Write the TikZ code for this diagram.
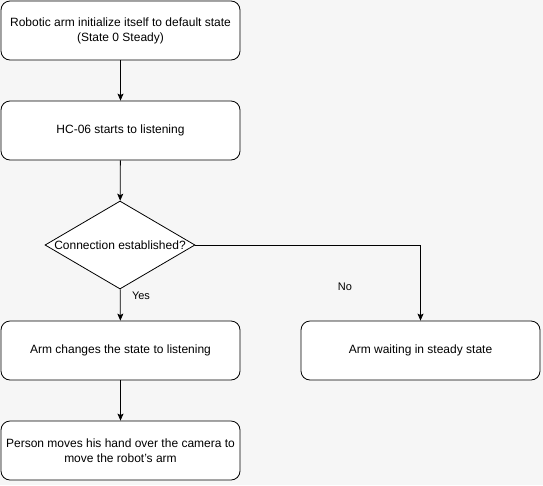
\documentclass[tikz,border=0pt]{standalone}
\usepackage{fontspec}
\setmainfont{Liberation Sans}
\usetikzlibrary{shapes.geometric,arrows.meta}
\definecolor{bg}{HTML}{F6F6F6}
\begin{document}
\begin{tikzpicture}[x=1pt,y=-1pt,
  box/.style={draw=black,fill=white,rounded corners=9pt,minimum width=239pt,minimum height=59pt,align=center,font=\fontsize{12}{15}\selectfont,line width=0.8pt},
  dia/.style={draw=black,fill=white,diamond,minimum width=150pt,minimum height=88pt,inner sep=0pt,line width=0.8pt,aspect=1.7},
  txt/.style={font=\fontsize{12}{15}\selectfont,inner sep=0pt},
  arr/.style={-{Stealth[length=7pt,width=6pt,inset=1.5pt]},line width=0.8pt},
  lbl/.style={font=\fontsize{11}{13}\selectfont}]
\fill[bg] (0,0) rectangle (543,485);
\useasboundingbox (0,0) rectangle (543,485);
\node[box] (a) at (120.5,30.5) {Robotic arm initialize itself to default state\\(State 0 Steady)};
\node[box] (b) at (120.5,130.5) {HC-06 starts to listening};
\node[dia] (c) at (120,245) {};
\node[txt] (ct) at (c.center) {Connection established?};
\node[box] (d) at (120.5,350.5) {Arm changes the state to listening};
\node[box] (e) at (420.5,350.5) {Arm waiting in steady state};
\node[box] (f) at (120.5,450.5) {Person moves his hand over the camera to\\move the robot's arm};
\draw[arr] (a) -- (b);
\draw[arr] (b) -- (c);
\draw[arr] (c) -- (d);
\node[lbl] (yes) at (141,296) {Yes};
\draw[arr] (c.east) -| (e.north);
\node[lbl] (no) at (345,287) {No};
\draw[arr] (d) -- (f);
\end{tikzpicture}
\end{document}
